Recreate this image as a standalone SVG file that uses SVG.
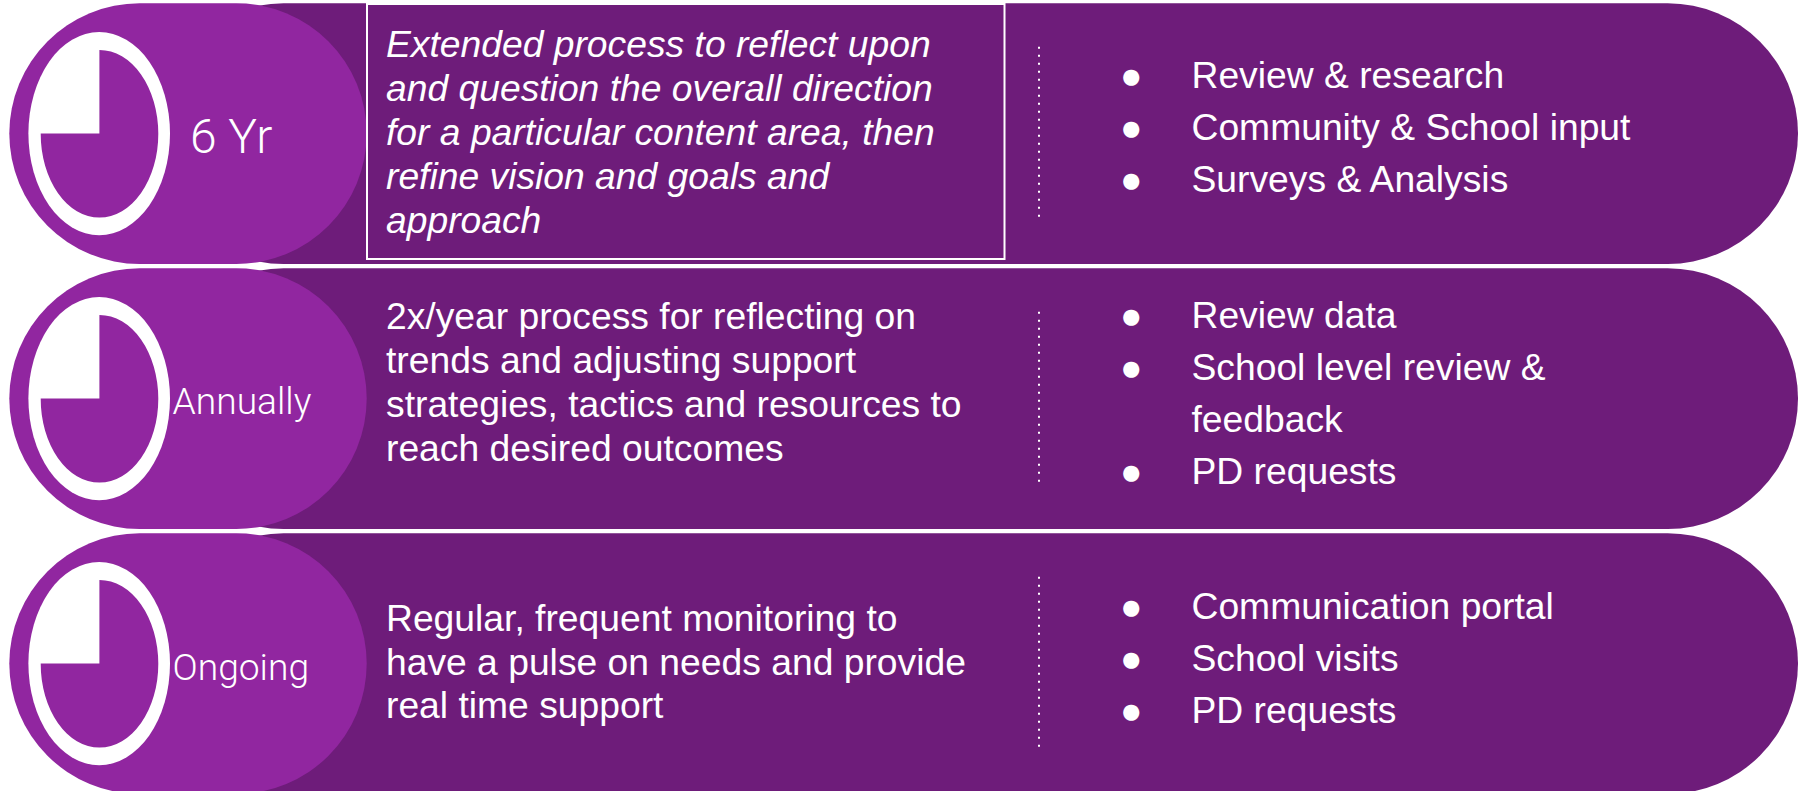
<svg xmlns="http://www.w3.org/2000/svg" width="1804" height="791" viewBox="0 0 1804 791">
<defs>
<style>
.dark{fill:#6e1c7a}
.light{fill:#9126a0}
.t{font-family:"Liberation Sans",Arial,sans-serif;font-size:37.25px;fill:#fff}
.i{font-style:italic}
.lab{font-family:Roboto,"Open Sans",sans-serif;font-weight:300;fill:#fff}
.dots{stroke:#fff;stroke-width:2;stroke-dasharray:2 6;fill:none}
.ring{fill:#fff}
.pie{fill:#9126a0}
.box{fill:none;stroke:#fff;stroke-width:2}
</style>
</defs>
<rect width="1804" height="791" fill="#fff"/>
<g id="row-6yr">
<rect class="dark" x="153.3" y="3.3" width="1644.7" height="260.6" rx="130.3"/>
<rect class="light" x="9.3" y="3.3" width="357.4" height="260.6" rx="130.3"/>
<ellipse class="ring" cx="99.2" cy="133.6" rx="70.8" ry="101.6"/>
<path class="pie" d="M99.4 50A58.8 83.8 0 1 1 40.7 133.6H99.4Z"/>
<text class="lab" x="190" y="152.7" font-size="48">6 Yr</text>
<rect class="box" x="367" y="4" width="637.5" height="255"/>
<g class="t i">
<text x="386" y="56.7">Extended process to reflect upon</text>
<text x="386" y="100.7">and question the overall direction</text>
<text x="386" y="144.7">for a particular content area, then</text>
<text x="386" y="188.7">refine vision and goals and</text>
<text x="386" y="232.7">approach</text>
</g>
<line class="dots" x1="1039" y1="46.7" x2="1039" y2="217"/>
<g class="t">
<text x="1120" y="88.3">●</text><text x="1191.5" y="88.3">Review &amp; research</text>
<text x="1120" y="140.3">●</text><text x="1191.5" y="140.3">Community &amp; School input</text>
<text x="1120" y="192.3">●</text><text x="1191.5" y="192.3">Surveys &amp; Analysis</text>
</g>
</g>
<g id="row-annually">
<rect class="dark" x="153.3" y="268.3" width="1644.7" height="260.6" rx="130.3"/>
<rect class="light" x="9.3" y="268.3" width="357.4" height="260.6" rx="130.3"/>
<ellipse class="ring" cx="99.2" cy="398.6" rx="70.8" ry="101.6"/>
<path class="pie" d="M99.4 315A58.8 83.8 0 1 1 40.7 398.6H99.4Z"/>
<text class="lab" x="172.5" y="413.5" font-size="37.2">Annually</text>
<g class="t">
<text x="386" y="329">2x/year process for reflecting on</text>
<text x="386" y="373">trends and adjusting support</text>
<text x="386" y="417">strategies, tactics and resources to</text>
<text x="386" y="461">reach desired outcomes</text>
</g>
<line class="dots" x1="1039" y1="311.7" x2="1039" y2="482"/>
<g class="t">
<text x="1120" y="328">●</text><text x="1191.5" y="328">Review data</text>
<text x="1120" y="380">●</text><text x="1191.5" y="380">School level review &amp;</text>
<text x="1191.5" y="432">feedback</text>
<text x="1120" y="484">●</text><text x="1191.5" y="484">PD requests</text>
</g>
</g>
<g id="row-ongoing">
<rect class="dark" x="153.3" y="533.3" width="1644.7" height="260.6" rx="130.3"/>
<rect class="light" x="9.3" y="533.3" width="357.4" height="260.6" rx="130.3"/>
<ellipse class="ring" cx="99.2" cy="663.6" rx="70.8" ry="101.6"/>
<path class="pie" d="M99.4 580A58.8 83.8 0 1 1 40.7 663.6H99.4Z"/>
<text class="lab" x="172.5" y="680" font-size="37.2">Ongoing</text>
<g class="t">
<text x="386" y="630.7">Regular, frequent monitoring to</text>
<text x="386" y="674.5">have a pulse on needs and provide</text>
<text x="386" y="718.3">real time support</text>
</g>
<line class="dots" x1="1039" y1="576.7" x2="1039" y2="747"/>
<g class="t">
<text x="1120" y="619">●</text><text x="1191.5" y="619">Communication portal</text>
<text x="1120" y="671">●</text><text x="1191.5" y="671">School visits</text>
<text x="1120" y="723">●</text><text x="1191.5" y="723">PD requests</text>
</g>
</g>
</svg>
